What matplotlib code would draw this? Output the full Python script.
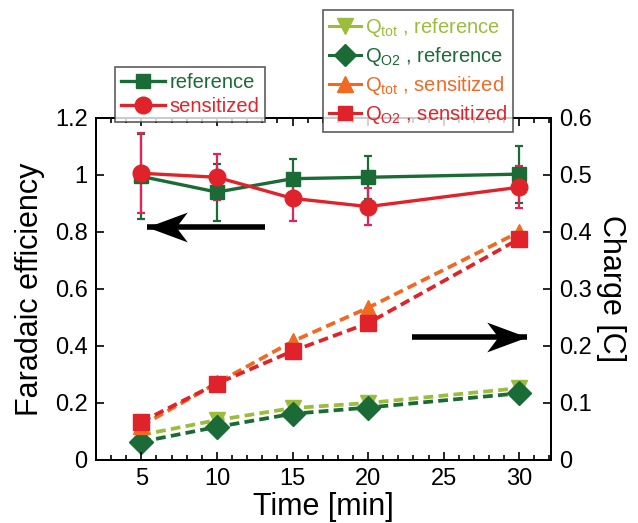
import matplotlib
matplotlib.use("Agg")
import matplotlib.pyplot as plt
from matplotlib.lines import Line2D
from matplotlib.path import Path
from matplotlib.ticker import MultipleLocator

plt.rcParams["font.family"] = ["Liberation Sans", "DejaVu Sans"]
plt.rcParams["mathtext.fontset"] = "custom"
plt.rcParams["mathtext.rm"] = "Liberation Sans"

# data
time = [5, 10, 15, 20, 30]

fe_reference = [0.995, 0.94, 0.987, 0.992, 1.003]
fe_reference_err = [0.15, 0.10, 0.07, 0.075, 0.10]
fe_sensitized = [1.006, 0.992, 0.918, 0.889, 0.957]
fe_sensitized_err = [0.14, 0.08, 0.078, 0.064, 0.073]

qtot_reference = [0.044, 0.070, 0.091, 0.100, 0.126]
qo2_reference = [0.032, 0.058, 0.081, 0.092, 0.117]
qtot_sensitized = [0.060, 0.135, 0.208, 0.267, 0.400]
qo2_sensitized = [0.067, 0.134, 0.191, 0.240, 0.388]

# arrows: (tail x, tip x, y on the left axis)
arrow_left = (13.21, 5.38, 0.8175)
arrow_right = (22.88, 30.54, 0.4305)

dark_green = "#1A6B35"
red = "#E0232A"
red_err = "#E2245A"
orange = "#F06A24"
light_green = "#9CBD3C"

fig = plt.figure(figsize=(6.38, 5.23), dpi=100)
ax = fig.add_axes([0.1505, 0.1205, 0.7131, 0.6539])
ax2 = ax.twinx()

# charge curves (right axis)
dash = (2.6, 1.4)
lw_q = 2.7
ax2.plot(time, qtot_reference, "v--", color=light_green, lw=lw_q, ms=12, dashes=dash)
ax2.plot(time, qo2_reference, "D--", color=dark_green, lw=lw_q, ms=12, dashes=dash)
ax2.plot(time, qtot_sensitized, "^--", color=orange, lw=lw_q, ms=12, dashes=dash)
ax2.plot(time, qo2_sensitized, "s--", color=red, lw=lw_q, ms=11, dashes=dash)

# faradaic efficiency (left axis), drawn on top
ax.set_zorder(ax2.get_zorder() + 1)
ax.patch.set_visible(False)
ax.errorbar(time, fe_reference, yerr=fe_reference_err, fmt="s-", color=dark_green,
            lw=2.4, ms=10.5, capsize=3, elinewidth=1.6, capthick=1.6)
ax.errorbar(time, fe_sensitized, yerr=fe_sensitized_err, fmt="o-", color=red,
            ecolor=red_err, lw=2.4, ms=12, capsize=3, elinewidth=1.6, capthick=1.6)


# swept arrow head as a marker whose tip sits at (0, 0)
def head(direction):
    v = [(0, 0), (-1, 0.37), (-0.72, 0), (-1, -0.37), (0, 0)]
    v = [(direction * x, y) for x, y in v]
    return Path(v, [Path.MOVETO, Path.LINETO, Path.LINETO, Path.LINETO, Path.CLOSEPOLY])


for tail, tip, y in (arrow_left, arrow_right):
    d = 1 if tip > tail else -1
    ax.plot([tail, tip], [y, y], color="black", lw=4, solid_capstyle="butt")
    ax.plot([tip], [y], marker=head(d), color="black", ms=58, mew=0)

ax.set_xlim(2, 32.1)
ax.set_ylim(0, 1.2)
ax2.set_ylim(0, 0.6)
ax.set_xticks([5, 10, 15, 20, 25, 30])
ax.xaxis.set_minor_locator(MultipleLocator(1))
ax.set_yticks([0, 0.2, 0.4, 0.6, 0.8, 1.0, 1.2])
ax.set_yticklabels(["0", "0.2", "0.4", "0.6", "0.8", "1", "1.2"])
ax2.set_yticks([0, 0.1, 0.2, 0.3, 0.4, 0.5, 0.6])
ax2.set_yticklabels(["0", "0.1", "0.2", "0.3", "0.4", "0.5", "0.6"])

ax.tick_params(axis="x", which="both", direction="in", top=True, labelsize=17, pad=6)
ax.tick_params(axis="x", which="major", length=6, width=1.2)
ax.tick_params(axis="x", which="minor", length=3.5, width=1.2)
ax.tick_params(axis="y", direction="in", length=6, width=1.2, labelsize=17, pad=6)
ax2.tick_params(axis="y", direction="in", length=6, width=1.2, labelsize=17, pad=6)
for a in (ax, ax2):
    for s in a.spines.values():
        s.set_linewidth(1.4)

ax.set_xlabel("Time [min]", fontsize=22, labelpad=1)
ax.set_ylabel("Faradaic efficiency", fontsize=22, labelpad=7)
ax2.set_ylabel("Charge [C]", fontsize=22, rotation=270, labelpad=24)

# legends
h1 = [Line2D([], [], color=dark_green, marker="s", lw=2.4, ms=10),
      Line2D([], [], color=red, marker="o", lw=2.4, ms=12)]
leg1 = fig.legend(h1, ["reference", "sensitized"], loc="upper left",
                  bbox_to_anchor=(0.180, 0.872), borderaxespad=0, fontsize=14.5,
                  frameon=True, fancybox=False, edgecolor="#333333", handlelength=2.2,
                  handletextpad=0.2, borderpad=0.3, labelspacing=0.25)
leg1.get_frame().set_linewidth(1.2)
for t, c in zip(leg1.get_texts(), [dark_green, red]):
    t.set_color(c)

h2 = [Line2D([], [], color=light_green, marker="v", lw=2.2, ms=11),
      Line2D([], [], color=dark_green, marker="D", lw=2.2, ms=11),
      Line2D([], [], color=orange, marker="^", lw=2.2, ms=11),
      Line2D([], [], color=red, marker="s", lw=2.2, ms=10)]
labels2 = [r"Q$_\mathregular{tot}$ , reference", r"Q$_\mathregular{O2}$ , reference",
           r"Q$_\mathregular{tot}$ , sensitized", r"Q$_\mathregular{O2}$ , sensitized"]
leg2 = fig.legend(h2, labels2, loc="upper left", bbox_to_anchor=(0.506, 0.981),
                  borderaxespad=0, fontsize=14.5, frameon=True, fancybox=False,
                  edgecolor="#333333", handlelength=1.6, handletextpad=0.2,
                  borderpad=0.3, labelspacing=0.3)
leg2.get_frame().set_linewidth(1.2)
for t, c in zip(leg2.get_texts(), [light_green, dark_green, orange, red]):
    t.set_color(c)

fig.savefig("out.png", dpi=100)
